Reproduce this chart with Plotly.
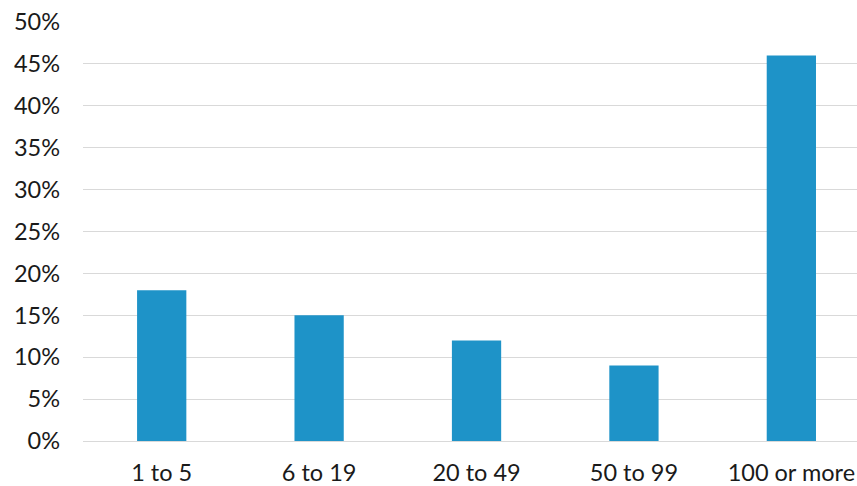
import plotly.graph_objects as go

# Share of respondents by organisation size
categories = ["1 to 5", "6 to 19", "20 to 49", "50 to 99", "100 or more"]
shares = [0.18, 0.15, 0.12, 0.09, 0.46]
y_ticks = [0, 0.05, 0.10, 0.15, 0.20, 0.25, 0.30, 0.35, 0.40, 0.45, 0.50]
y_tick_labels = ["0%", "5%", "10%", "15%", "20%", "25%", "30%", "35%", "40%", "45%", "50%"]

BAR_COLOR = "#1E93C8"
GRID_COLOR = "#D9D9D9"
TEXT_COLOR = "#1A1A1A"
FONT = "Lato, 'Open Sans', sans-serif"

fig = go.Figure(
    go.Bar(
        x=list(range(len(categories))),
        y=shares,
        width=0.313,
        marker=dict(color=BAR_COLOR, line=dict(width=0)),
        hovertemplate="%{customdata}: %{y:.0%}<extra></extra>",
        customdata=categories,
    )
)

fig.update_layout(
    width=857,
    height=486,
    margin=dict(l=83, r=0, t=22, b=45),
    paper_bgcolor="white",
    plot_bgcolor="white",
    showlegend=False,
    font=dict(family=FONT, size=23.5, color=TEXT_COLOR),
)

fig.update_xaxes(
    range=[-0.5, 4.417],
    tickmode="array",
    tickvals=list(range(len(categories))),
    ticktext=categories,
    showgrid=False,
    zeroline=False,
    showline=False,
    ticks="",
    automargin=False,
    ticklabelstandoff=15,
    tickfont=dict(family=FONT, size=23.5, color=TEXT_COLOR),
)

fig.update_yaxes(
    range=[0, 0.5],
    tickmode="array",
    tickvals=y_ticks,
    ticktext=y_tick_labels,
    showgrid=True,
    gridcolor=GRID_COLOR,
    gridwidth=1,
    zeroline=True,
    zerolinecolor=GRID_COLOR,
    zerolinewidth=1,
    showline=False,
    ticks="",
    automargin=False,
    ticklabelstandoff=22,
    tickfont=dict(family=FONT, size=23.5, color=TEXT_COLOR),
)

fig.write_html("out.html")
